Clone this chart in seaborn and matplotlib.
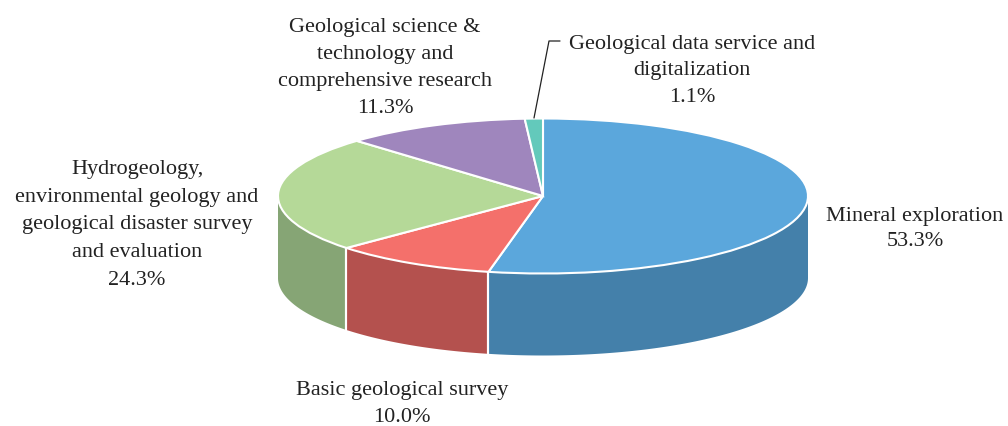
import numpy as np
import matplotlib
matplotlib.use("Agg")
import matplotlib.pyplot as plt
import seaborn as sns

sns.set_theme(style="white")
plt.rcParams["font.family"] = ["Liberation Serif", "DejaVu Serif"]

labels = ["Mineral exploration\n53.3%",
          "Basic geological survey\n10.0%",
          "Hydrogeology,\nenvironmental geology and\ngeological disaster survey\nand evaluation\n24.3%",
          "Geological science &\ntechnology and\ncomprehensive research\n11.3%",
          "Geological data service and\ndigitalization\n1.1%"]
values = [53.3, 10.0, 24.3, 11.3, 1.1]
top_colors = ["#5BA7DC", "#F4706B", "#B5D998", "#9F86BD", "#63C9BB"]
side_colors = ["#4480AA", "#B4514E", "#86A575", "#7C6893", "#4C9A90"]

W, H = 1008, 426
cx, cy, rx, ry, depth = 543, 196, 265, 77.5, 82

fig = plt.figure(figsize=(W / 100, H / 100), dpi=100)
ax = fig.add_axes([0, 0, 1, 1])
ax.pie(values, colors=top_colors, startangle=90, counterclock=False,
       wedgeprops=dict(edgecolor="white", linewidth=1.5), radius=1)
ax.set_aspect("auto")
ax.set_xlim(-cx / rx, (W - cx) / rx)
ax.set_ylim(-(H - cy) / ry, cy / ry)
d = depth / ry

# side wall, only the front half (lower half of ellipse) is visible
edges = np.cumsum([0] + values) / sum(values) * 360
for i in range(len(values)):
    a0, a1 = max(edges[i], 90), min(edges[i + 1], 270)
    if a1 <= a0:
        continue
    t = np.radians(np.linspace(a0, a1, 120))
    x, y = np.sin(t), np.cos(t)
    ax.fill(np.r_[x, x[::-1]], np.r_[y, y[::-1] - d], color=side_colors[i], lw=0, zorder=0.5)
    for a in (a0, a1):
        if 90 < a < 270:
            r = np.radians(a)
            ax.plot([np.sin(r)] * 2, [np.cos(r), np.cos(r) - d], color="white", lw=1.5, zorder=0.6)


def px(x, y):
    return (x - cx) / rx, (cy - y) / ry


text_pos = [(915, 229), (402, 404), (137, 225), (385, 68), (692, 71)]
spacing = [1.5, 1.5, 1.62, 1.56, 1.5]
for lab, (x, y), sp in zip(labels, text_pos, spacing):
    ax.text(*px(x, y), lab, ha="center", va="center", fontsize=16, color="#222222", linespacing=sp)

# leader line for the small slice
lx, ly = zip(px(534, 118), px(549, 41), px(560, 41))
ax.plot(lx, ly, color="#222222", lw=0.9, zorder=3)

fig.savefig("out.png", dpi=100)
